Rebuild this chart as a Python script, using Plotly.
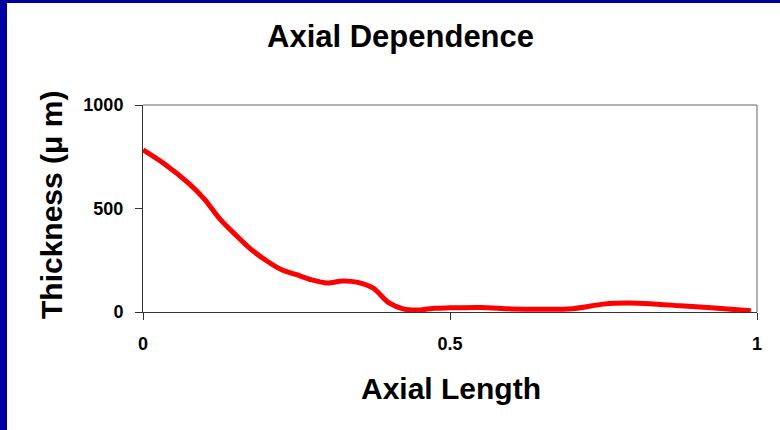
import plotly.graph_objects as go

axial_length = [0.000, 0.035, 0.075, 0.100, 0.125, 0.150, 0.175, 0.200, 0.225, 0.250,
                0.275, 0.300, 0.325, 0.350, 0.375, 0.400, 0.425, 0.450, 0.475, 0.500,
                0.550, 0.600, 0.650, 0.700, 0.750, 0.790, 0.825, 0.875, 0.925, 0.990]
thickness = [783, 715, 620, 545, 450, 375, 305, 250, 205, 180,
             155, 140, 150, 143, 115, 45, 14, 10, 18, 20,
             22, 15, 13, 16, 38, 43, 40, 30, 20, 6]

x_ticks = [0, 0.5, 1]
x_tick_labels = ["0", "0.5", "1"]
y_ticks = [0, 500, 1000]
y_tick_labels = ["0", "500", "1000"]

FONT = "Arial, 'Liberation Sans', sans-serif"
W, H = 780, 430
L, R, T, B = 143, 23, 105, 118
pw, ph = W - L - R, H - T - B

def px(x):
    return (x - L) / pw

def py(y):
    return (H - B - y) / ph

fig = go.Figure()
fig.add_trace(go.Scatter(
    x=axial_length, y=thickness, mode="lines",
    line=dict(color="#FF0000", width=5, shape="spline", smoothing=0.8),
    hoverinfo="skip", showlegend=False,
))

fig.update_layout(
    width=W, height=H,
    margin=dict(l=L, r=R, t=T, b=B),
    paper_bgcolor="white", plot_bgcolor="white",
    showlegend=False,
    xaxis=dict(range=[0, 1], tickvals=x_ticks, ticktext=x_tick_labels,
               showgrid=False, zeroline=False, showline=True, linecolor="#333333",
               linewidth=1, ticks="outside", ticklen=7, tickcolor="#333333",
               tickfont=dict(family=FONT, size=18, color="black", weight="bold"),
               ticklabelstandoff=8, fixedrange=True),
    yaxis=dict(range=[0, 1000], tickvals=y_ticks, ticktext=y_tick_labels,
               showgrid=False, zeroline=False, showline=True, linecolor="#333333",
               linewidth=1, ticks="outside", ticklen=7, tickcolor="#333333",
               tickfont=dict(family=FONT, size=18, color="black", weight="bold"),
               ticklabelstandoff=8, fixedrange=True),
)

shapes = [
    # grey frame top and right
    dict(type="line", xref="paper", yref="paper", x0=0, x1=1, y0=1, y1=1,
         line=dict(color="#999999", width=1.5)),
    dict(type="line", xref="paper", yref="paper", x0=1, x1=1, y0=0, y1=1,
         line=dict(color="#999999", width=1.5)),
    # blue slide border (left and top)
    dict(type="rect", xref="paper", yref="paper", x0=px(0), x1=px(7), y0=py(H), y1=py(0),
         fillcolor="#0000A0", line=dict(width=0), layer="above"),
    dict(type="rect", xref="paper", yref="paper", x0=px(0), x1=px(W), y0=py(3), y1=py(0),
         fillcolor="#0000A0", line=dict(width=0), layer="above"),
]
fig.update_layout(shapes=shapes)

annotations = [
    dict(text="Axial Dependence", x=px(400.5), y=py(36.7), xref="paper", yref="paper",
         xanchor="center", yanchor="middle", showarrow=False,
         font=dict(family=FONT, size=31, color="black", weight="bold")),
    dict(text="Axial Length", x=px(451), y=py(388.3), xref="paper", yref="paper",
         xanchor="center", yanchor="middle", showarrow=False,
         font=dict(family=FONT, size=30, color="black", weight="bold")),
    dict(text="Thickness (\u03bc m)", x=px(51), y=py(205), xref="paper", yref="paper",
         xanchor="center", yanchor="middle", showarrow=False, textangle=-90,
         font=dict(family=FONT, size=30, color="black", weight="bold")),
]
fig.update_layout(annotations=annotations)

fig.write_html("out.html", config={"displayModeBar": False},
               post_script="document.body.style.margin='0';document.body.style.padding='0';")
